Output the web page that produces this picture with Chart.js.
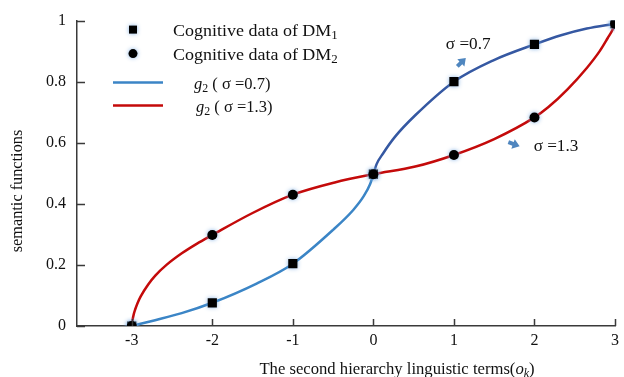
<!DOCTYPE html>
<html>
<head>
<meta charset="utf-8">
<script src="https://cdn.jsdelivr.net/npm/chart.js@4"></script>
<style>
  html, body { margin: 0; padding: 0; background: #fff; }
  #wrap { width: 624px; height: 377px; position: relative; }
</style>
</head>
<body>
<div id="wrap"><canvas id="semantic_chart" width="624" height="377"></canvas></div>
<script>
// linguistic terms and cognitive data
var levels = [-3, -2, -1, 0, 1, 2, 3];
var dm1 = [0, 0.076, 0.204, 0.497, 0.80, 0.922, 0.99];
var dm2 = [0, 0.298, 0.43, 0.497, 0.56, 0.683, 0.99];

// g2 curves
var g07X = [-3, -2.71, -2.38, -2, -1.45, -1, -0.5, -0.25, -0.12, -0.04, 0, 0.04, 0.12, 0.27, 0.52, 1, 1.49, 2, 2.33, 2.65, 3];
var g07Y = [0, 0.019, 0.042, 0.076, 0.139, 0.204, 0.315, 0.38, 0.425, 0.465, 0.497, 0.53, 0.565, 0.62, 0.69, 0.80, 0.87, 0.922, 0.952, 0.974, 0.99];
var g13X = [-3, -2.99, -2.975, -2.958, -2.93, -2.889, -2.796, -2.708, -2.569, -2.379, -2.194, -2, -1.5, -1, -0.48, 0, 0.52, 1, 1.5, 2, 2.17, 2.41, 2.65, 2.81, 2.91, 2.97, 3];
var g13Y = [0, 0.02, 0.039, 0.054, 0.074, 0.097, 0.136, 0.165, 0.2, 0.238, 0.269, 0.298, 0.37, 0.43, 0.47, 0.497, 0.522, 0.56, 0.612, 0.683, 0.716, 0.775, 0.845, 0.9, 0.943, 0.97, 0.99];

var xTicks = [-3, -2, -1, 0, 1, 2, 3];
var yTicks = [0, 0.2, 0.4, 0.6, 0.8, 1];

var serif = '"Liberation Serif", "Times New Roman", serif';
var axisColor = '#3a3a3a';

function pts(xs, ys) {
    return xs.map(function (x, i) { return { x: x, y: ys[i] }; });
}

// text with italic / subscript parts, y is the baseline, sx = horizontal stretch
function drawRich(ctx, parts, x, y, size, align, sx) {
    sx = sx || 1;
    var fonts = parts.map(function (p) {
        return (p.it ? 'italic ' : '') + (p.sub ? size * 0.72 : size) + 'px ' + serif;
    });
    var w = 0;
    parts.forEach(function (p, i) { ctx.font = fonts[i]; w += ctx.measureText(p.t).width; });
    ctx.save();
    ctx.translate(x, y);
    ctx.scale(sx, 1);
    var cx = align === 'center' ? -w / 2 : 0;
    ctx.textAlign = 'left';
    ctx.textBaseline = 'alphabetic';
    parts.forEach(function (p, i) {
        ctx.font = fonts[i];
        ctx.fillText(p.t, cx, p.sub ? size * 0.18 : 0);
        cx += ctx.measureText(p.t).width;
    });
    ctx.restore();
}

function arrow(ctx, cx, cy, ang) {
    ctx.save();
    ctx.translate(cx, cy);
    ctx.rotate(ang);
    ctx.fillStyle = '#4f86bf';
    ctx.beginPath();
    ctx.moveTo(6, 0);
    ctx.lineTo(-1, -5);
    ctx.lineTo(-1, -2);
    ctx.lineTo(-6, -2);
    ctx.lineTo(-6, 2);
    ctx.lineTo(-1, 2);
    ctx.lineTo(-1, 5);
    ctx.closePath();
    ctx.fill();
    ctx.restore();
}

var extras = {
    id: 'extras',
    beforeDatasetDraw: function (chart, args) {
        if (args.meta.type === 'scatter') {
            chart.ctx.save();
            chart.ctx.shadowColor = 'rgba(120,170,225,0.9)';
            chart.ctx.shadowBlur = 4;
        }
    },
    afterDatasetDraw: function (chart, args) {
        if (args.meta.type === 'scatter') chart.ctx.restore();
    },
    afterDraw: function (chart) {
        var ctx = chart.ctx, a = chart.chartArea;
        var xs = chart.scales.x, ys = chart.scales.y;
        ctx.save();
        // inner tick marks
        ctx.strokeStyle = axisColor;
        ctx.lineWidth = 1.5;
        ctx.beginPath();
        xTicks.forEach(function (v) {
            var px = Math.round(xs.getPixelForValue(v)) + 0.5;
            ctx.moveTo(px, a.bottom);
            ctx.lineTo(px, a.bottom - 7);
        });
        yTicks.forEach(function (v) {
            var py = Math.round(ys.getPixelForValue(v)) + 0.5;
            ctx.moveTo(a.left, py);
            ctx.lineTo(a.left + 8, py);
        });
        ctx.stroke();

        ctx.fillStyle = '#111';
        // axis titles
        drawRich(ctx, [
            { t: 'The second hierarchy linguistic terms(' },
            { t: 'o', it: true },
            { t: 'k', it: true, sub: true },
            { t: ')' }
        ], 397, 374, 16, 'center', 1.04);
        ctx.save();
        ctx.translate(22, 191);
        ctx.rotate(-Math.PI / 2);
        drawRich(ctx, [{ t: 'semantic functions' }], 0, 0, 16.3, 'center');
        ctx.restore();

        // legend
        var lx = a.left, ty = a.top;
        var ds = chart.data.datasets;
        ctx.shadowColor = 'rgba(120,170,225,0.9)';
        ctx.shadowBlur = 4;
        ctx.fillStyle = '#000';
        ctx.fillRect(lx + 52, ty + 5, 8, 8);
        ctx.beginPath();
        ctx.arc(lx + 56, ty + 33, 4.5, 0, Math.PI * 2);
        ctx.fill();
        ctx.shadowBlur = 0;
        ctx.lineWidth = 2.5;
        ctx.strokeStyle = ds[2].borderColor;
        ctx.beginPath(); ctx.moveTo(lx + 36, ty + 62); ctx.lineTo(lx + 86, ty + 62); ctx.stroke();
        ctx.strokeStyle = ds[3].borderColor;
        ctx.beginPath(); ctx.moveTo(lx + 36, ty + 85); ctx.lineTo(lx + 86, ty + 85); ctx.stroke();
        ctx.fillStyle = '#111';
        drawRich(ctx, [{ t: 'Cognitive data of DM' }, { t: '1', sub: true }], lx + 96, ty + 15, 16.5, 'left', 1.09);
        drawRich(ctx, [{ t: 'Cognitive data of DM' }, { t: '2', sub: true }], lx + 96, ty + 39, 16.5, 'left', 1.09);
        drawRich(ctx, [{ t: 'g', it: true }, { t: '2', sub: true }, { t: ' ( \u03c3 =0.7)' }], lx + 117, ty + 68, 16.5);
        drawRich(ctx, [{ t: 'g', it: true }, { t: '2', sub: true }, { t: ' ( \u03c3 =1.3)' }], lx + 119, ty + 91, 16.5);

        // sigma notes
        drawRich(ctx, [{ t: '\u03c3 =0.7' }], xs.getPixelForValue(0.9), ys.getPixelForValue(0.926) + 6, 16.5, 'left', 1.04);
        drawRich(ctx, [{ t: '\u03c3 =1.3' }], xs.getPixelForValue(1.99), ys.getPixelForValue(0.592) + 6, 16.5, 'left', 1.04);
        arrow(ctx, xs.getPixelForValue(1.095), ys.getPixelForValue(0.864), -Math.PI / 4);
        arrow(ctx, xs.getPixelForValue(1.746), ys.getPixelForValue(0.595), Math.PI / 9);
        ctx.restore();
    }
};

Chart.defaults.font.family = serif;
Chart.defaults.font.size = 16;
Chart.defaults.color = '#111';

var ctx = document.getElementById('semantic_chart');
var myChart = new Chart(ctx, {
    type: 'scatter',
    data: {
        datasets: [
            {
                label: 'Cognitive data of DM2',
                data: pts(levels, dm2),
                pointStyle: 'circle',
                pointRadius: 5,
                pointHoverRadius: 5,
                backgroundColor: '#000',
                borderColor: '#000',
                borderWidth: 0,
                order: 0
            },
            {
                label: 'Cognitive data of DM1',
                data: pts(levels, dm1),
                pointStyle: 'rect',
                pointRadius: 6.5,
                pointHoverRadius: 6.5,
                backgroundColor: '#000',
                borderColor: '#000',
                borderWidth: 0,
                order: 1
            },
            {
                type: 'line',
                label: 'g2 (σ=0.7)',
                data: pts(g07X, g07Y),
                borderColor: '#3b85c6',
                borderWidth: 2.5,
                pointRadius: 0,
                cubicInterpolationMode: 'monotone',
                segment: {
                    borderColor: function (c) { return c.p0.parsed.x >= 0 ? '#3558a2' : '#3b85c6'; }
                },
                order: 2
            },
            {
                type: 'line',
                label: 'g2 (σ=1.3)',
                data: pts(g13X, g13Y),
                borderColor: '#c40a0a',
                borderWidth: 2.5,
                pointRadius: 0,
                cubicInterpolationMode: 'monotone',
                order: 3
            }
        ]
    },
    options: {
        responsive: false,
        animation: false,
        events: [],
        layout: { padding: { top: 17, right: 4, left: 0, bottom: 0 } },
        plugins: {
            legend: { display: false },
            tooltip: { enabled: false }
        },
        scales: {
            x: {
                type: 'linear',
                min: -3.68,
                max: 3,
                afterBuildTicks: function (s) { s.ticks = xTicks.map(function (v) { return { value: v }; }); },
                afterFit: function (s) { s.height = 51; },
                grid: { display: false, drawTicks: false },
                border: { display: true, color: axisColor, width: 1.5 },
                ticks: { padding: 5, color: '#111', callback: function (v) { return String(v); } }
            },
            y: {
                min: 0,
                max: 1,
                afterBuildTicks: function (s) { s.ticks = yTicks.map(function (v) { return { value: v }; }); },
                afterFit: function (s) { s.width = 77; },
                grid: { display: false, drawTicks: false },
                border: { display: true, color: axisColor, width: 1.5 },
                ticks: { padding: 11, color: '#111', callback: function (v) { return String(v); } }
            }
        }
    },
    plugins: [extras]
});
</script>
</body>
</html>
